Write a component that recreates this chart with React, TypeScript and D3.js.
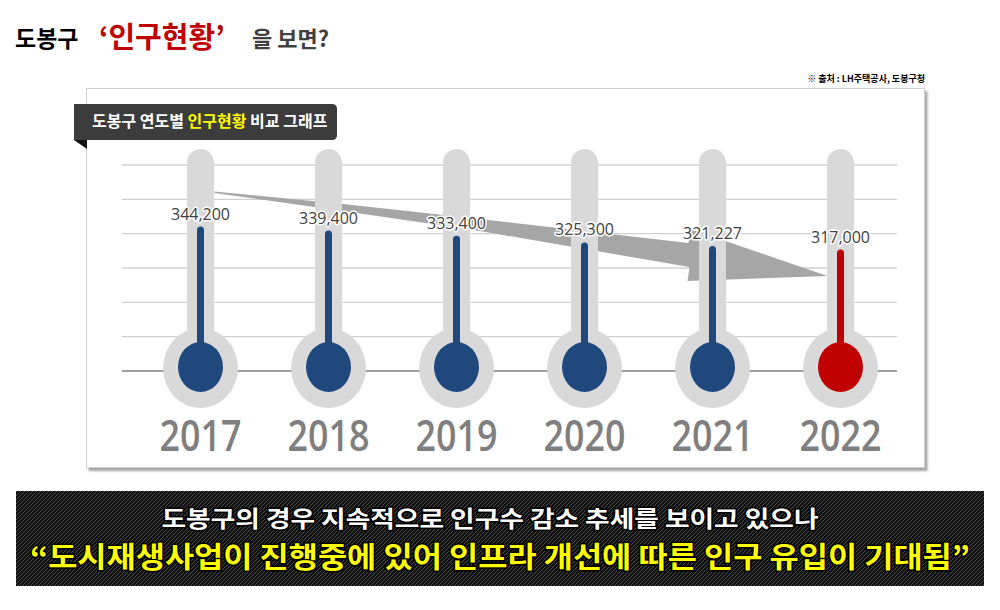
import React from 'react';
import * as d3 from 'd3';

const years = ['2017', '2018', '2019', '2020', '2021', '2022'];
const population = [344200, 339400, 333400, 325300, 321227, 317000];
const highlighted = [false, false, false, false, false, true];
const gridSteps = [0, 1, 2, 3, 4, 5, 6];

const BLUE = '#1f497d';
const RED = '#c00000';
const TUBE = '#d9d9d9';
const KR = '"Noto Sans CJK KR", "Noto Sans", sans-serif';
const NUM = '"Open Sans", "Noto Sans", sans-serif';

export default function App() {
  const x = d3.scalePoint<string>().domain(years).range([200.5, 840.5]);
  const y = d3.scaleLinear().domain([300000, 350000]).range([263.9, 221.6]);
  const grid = d3.scaleLinear().domain([0, 6]).range([371, 165]);
  const fmt = d3.format(',');

  const bulbY = 368;
  const tubeTop = 149;
  const tubeW = 27;

  // decorative trend arrow anchored to the first and last thermometers
  const tailX = (x('2017') as number) + 14;
  const tipX = (x('2022') as number) - 13;
  const baseX = tipX - 139;
  const arrowPts: [number, number][] = [
    [tailX, 191.5],
    [343, 204],
    [480, 219],
    [baseX, 243],
    [baseX + 2, 229],
    [tipX, 276],
    [baseX - 1, 281],
    [baseX + 1, 267],
    [480, 231],
    [343, 211],
    [tailX, 193],
  ];
  const arrowPath = d3.line()(arrowPts) + 'Z';

  return (
    <div style={{ position: 'fixed', left: 0, top: 0 }}>
      <svg width={1000} height={610} style={{ display: 'block', background: '#fff' }}>
        <defs>
          <filter id="shadow" x="-5%" y="-5%" width="110%" height="115%">
            <feDropShadow dx="2.5" dy="3" stdDeviation="1.2" floodColor="#000" floodOpacity="0.35" />
          </filter>
          <pattern id="hatch" patternUnits="userSpaceOnUse" width="4" height="4">
            <rect width="4" height="4" fill="#111" />
            <path d="M-1,1 l2,-2 M0,4 l4,-4 M3,5 l2,-2" stroke="#4a4a4a" strokeWidth="1" />
          </pattern>
        </defs>

        {/* Title */}
        <text x={15} y={47} fontFamily={KR} fontWeight={700} fontSize={23} fill="#000">도봉구</text>
        <text x={99} y={48} fontFamily={KR} fontWeight={700} fontSize={29} fill={RED}>‘인구현황’</text>
        <text x={252} y={47} fontFamily={KR} fontWeight={700} fontSize={22} fill="#404040">을 보면?</text>

        <text x={925} y={82} textAnchor="end" fontFamily={KR} fontWeight={700} fontSize={9} fill="#000">
          ※ 출처 : LH주택공사, 도봉구청
        </text>

        {/* Panel */}
        <rect x={86.5} y={88.5} width={838} height={379} fill="#fff" stroke="#d0d0d0" strokeWidth={1} filter="url(#shadow)" />

        {/* gridlines */}
        {gridSteps.map((g) => (
          <line
            key={g}
            x1={122}
            x2={897}
            y1={grid(g)}
            y2={grid(g)}
            stroke={g === 0 ? '#7f7f7f' : '#d0d0d0'}
            strokeWidth={1.3}
          />
        ))}

        {/* trend arrow */}
        <path d={arrowPath} fill="#a6a6a6" />

        {/* thermometers */}
        {years.map((yr, i) => {
          const cx = x(yr) as number;
          const top = y(population[i]);
          const col = highlighted[i] ? RED : BLUE;
          return (
            <g key={yr}>
              <rect x={cx - tubeW / 2} y={tubeTop} width={tubeW} height={bulbY - tubeTop} rx={tubeW / 2} fill={TUBE} />
              <ellipse cx={cx} cy={bulbY} rx={37.5} ry={40} fill={TUBE} />
              <rect x={cx - 3.5} y={top} width={7} height={bulbY - top} rx={3.5} fill={col} />
              <ellipse cx={cx} cy={bulbY - 1} rx={22.5} ry={25} fill={col} />
              <text
                x={cx}
                y={top - 7}
                textAnchor="middle"
                fontFamily={NUM}
                fontSize={16}
                fill="#404040"
                stroke="#fff"
                strokeWidth={3}
                paintOrder="stroke"
                strokeLinejoin="round"
              >
                {fmt(population[i])}
              </text>
              <text
                x={cx}
                y={451}
                textAnchor="middle"
                fontFamily={NUM}
                fontWeight={600}
                fontSize={44}
                fill="#7f7f7f"
                textLength={82}
                lengthAdjust="spacingAndGlyphs"
              >
                {yr}
              </text>
            </g>
          );
        })}

        {/* label box */}
        <path d="M74,140 L87,140 L87,149 Z" fill="#111" />
        <path d="M74,104 H332 Q337,104 337,109 V135 Q337,140 332,140 H74 Z" fill="#3c3c3c" />
        <text x={92} y={127} fontFamily={KR} fontWeight={700} fontSize={16} fill="#fff">
          도봉구 연도별 <tspan fill="#ffff00">인구현황</tspan> 비교 그래프
        </text>

        {/* bottom banner */}
        <rect x={16} y={491} width={968} height={95} fill="url(#hatch)" />
        <text
          x={490}
          y={527}
          textAnchor="middle"
          fontFamily={KR}
          fontWeight={700}
          fontSize={23}
          fill="#fff"
          stroke="#000"
          strokeWidth={3}
          paintOrder="stroke"
          textLength={657}
          lengthAdjust="spacingAndGlyphs"
        >
          도봉구의 경우 지속적으로 인구수 감소 추세를 보이고 있으나
        </text>
        <text
          x={500}
          y={568}
          textAnchor="middle"
          fontFamily={KR}
          fontWeight={700}
          fontSize={29}
          fill="#ffff00"
          stroke="#000"
          strokeWidth={3}
          paintOrder="stroke"
          textLength={940}
          lengthAdjust="spacingAndGlyphs"
        >
          “도시재생사업이 진행중에 있어 인프라 개선에 따른 인구 유입이 기대됨”
        </text>
      </svg>
    </div>
  );
}
